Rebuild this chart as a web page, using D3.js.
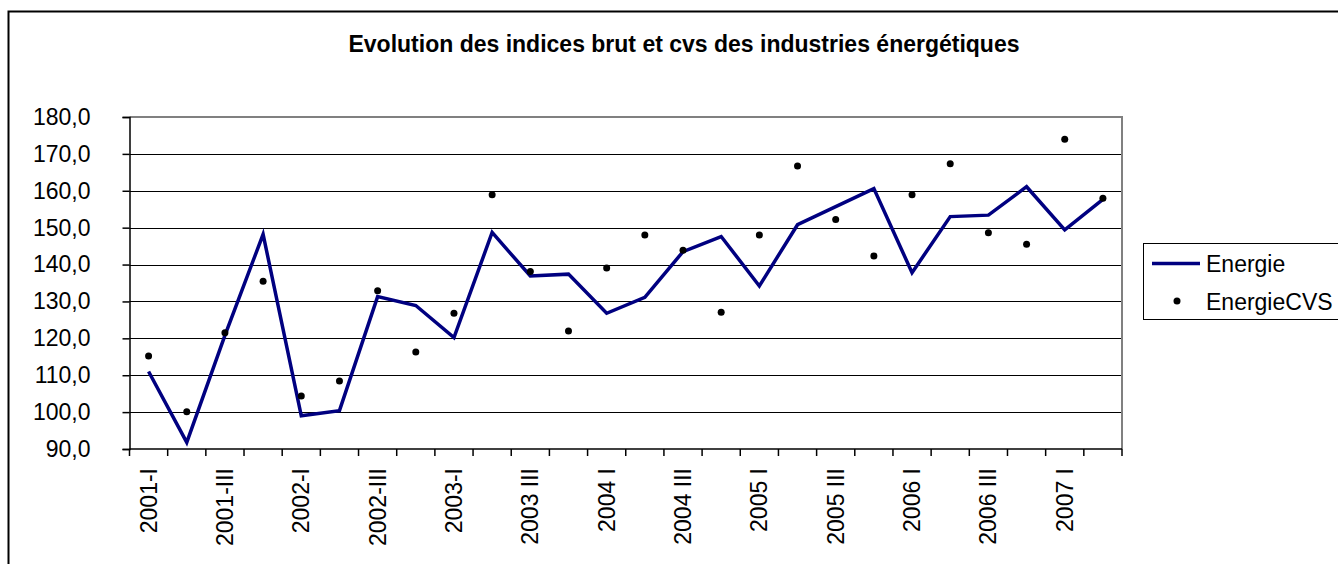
<!DOCTYPE html>
<html>
<head>
<meta charset="utf-8">
<script src="https://cdn.jsdelivr.net/npm/d3@7"></script>
<style>
	body { margin: 0; background: #ffffff; }
	svg text { font-family: Arial, "Liberation Sans", sans-serif; fill: #000000; }
</style>
</head>
<body>
<div id="chart"></div>
<script>

// Categories (quarters)
var categories = [
	"2001-I", "2001-II", "2001-III", "2001-IV",
	"2002-I", "2002-II", "2002-III", "2002-IV",
	"2003-I", "2003-II", "2003 III", "2003 IV",
	"2004 I", "2004 II", "2004 III", "2004 IV",
	"2005 I", "2005 II", "2005 III", "2005 IV",
	"2006 I", "2006 II", "2006 III", "2006 IV",
	"2007 I", "2007 II"
];

// Series values
var energie = [
	111.0, 91.8, 120.8, 148.2,
	99.0, 100.4, 131.3, 128.9,
	120.2, 148.7, 136.9, 137.4,
	126.8, 131.1, 143.5, 147.6,
	134.2, 150.8, 155.7, 160.6,
	137.8, 153.0, 153.4, 161.1,
	149.4, 157.7
];

var energieCVS = [
	115.2, 100.1, 121.5, 135.5,
	104.4, 108.4, 132.9, 116.3,
	126.8, 158.9, 138.1, 122.0,
	139.1, 148.0, 143.9, 127.1,
	148.0, 166.7, 152.2, 142.3,
	158.9, 167.3, 148.6, 145.5,
	174.0, 158.0
];

// Tick labels
var yTicks = [90, 100, 110, 120, 130, 140, 150, 160, 170, 180];
var xLabelEvery = 2;

var chartTitle = "Evolution des indices brut et cvs des industries énergétiques";
var legendNames = ["Energie", "EnergieCVS"];

(function(){

	var width = 1338, height = 564;
	var fontSize = 23;

	// Plot area
	var plot = { left: 129.5, right: 1122, top: 117, bottom: 449 };

	var svg = d3.select("#chart").append("svg")
		.attr("width", width)
		.attr("height", height);

	// Outer chart frame (runs off the right and bottom of the picture)
	svg.append("rect")
		.attr("x", 8.5)
		.attr("y", 11.5)
		.attr("width", 1400)
		.attr("height", 600)
		.attr("fill", "#ffffff")
		.attr("stroke", "#000000")
		.attr("stroke-width", 2);

	// Title
	svg.append("text")
		.attr("x", 684)
		.attr("y", 52)
		.attr("text-anchor", "middle")
		.attr("font-size", 23)
		.attr("font-weight", "bold")
		.text(chartTitle);

	// Scales
	var x = d3.scaleBand()
		.domain(categories)
		.range([plot.left, plot.right]);

	var y = d3.scaleLinear()
		.domain([90, 180])
		.range([plot.bottom, plot.top]);

	var cx = function(i){ return x(categories[i]) + x.bandwidth() / 2; };

	// Gridlines
	svg.append("g")
		.selectAll("line")
		.data(yTicks.slice(1, -1))
		.enter().append("line")
		.attr("x1", plot.left)
		.attr("x2", plot.right)
		.attr("y1", function(d){ return Math.round(y(d)) + 0.5; })
		.attr("y2", function(d){ return Math.round(y(d)) + 0.5; })
		.attr("stroke", "#000000")
		.attr("stroke-width", 1);

	// Plot area border (top and right, grey)
	svg.append("path")
		.attr("d", "M" + plot.left + "," + plot.top + "H" + plot.right + "V" + plot.bottom)
		.attr("fill", "none")
		.attr("stroke", "#808080")
		.attr("stroke-width", 2);

	// Y axis
	var yAxis = d3.axisLeft(y)
		.tickValues(yTicks)
		.tickSize(7)
		.tickPadding(32)
		.tickFormat(function(d){ return d3.format(".1f")(d).replace(".", ","); });

	var gy = svg.append("g")
		.attr("transform", "translate(" + plot.left + ",0)")
		.call(yAxis);
	gy.selectAll("path, line").attr("stroke", "#000000").attr("stroke-width", 1.5);
	gy.selectAll("text")
		.attr("font-size", fontSize)
		.attr("font-family", "Arial, 'Liberation Sans', sans-serif");

	// X axis (ticks on category boundaries)
	var gx = svg.append("g");
	gx.append("line")
		.attr("x1", plot.left)
		.attr("x2", plot.right)
		.attr("y1", plot.bottom)
		.attr("y2", plot.bottom)
		.attr("stroke", "#000000")
		.attr("stroke-width", 1.5);

	var bounds = categories.map(function(c){ return x(c); }).concat([plot.right]);
	gx.selectAll("line.tick")
		.data(bounds)
		.enter().append("line")
		.attr("class", "tick")
		.attr("x1", function(d){ return d; })
		.attr("x2", function(d){ return d; })
		.attr("y1", plot.bottom)
		.attr("y2", plot.bottom + 7)
		.attr("stroke", "#000000")
		.attr("stroke-width", 1.5);

	gx.selectAll("text")
		.data(categories.filter(function(c, i){ return i % xLabelEvery == 0; }))
		.enter().append("text")
		.attr("transform", function(d){
			return "translate(" + (x(d) + x.bandwidth() / 2 + 8) + "," + (plot.bottom + 19) + ") rotate(-90)";
		})
		.attr("text-anchor", "end")
		.attr("font-size", fontSize)
		.text(function(d){ return d; });

	// Energie line
	var line = d3.line()
		.x(function(d, i){ return cx(i); })
		.y(function(d){ return y(d); });

	svg.append("path")
		.datum(energie)
		.attr("d", line)
		.attr("fill", "none")
		.attr("stroke", "#000080")
		.attr("stroke-width", 3.5)
		.attr("stroke-linejoin", "miter");

	// EnergieCVS markers
	svg.append("g")
		.selectAll("circle")
		.data(energieCVS)
		.enter().append("circle")
		.attr("cx", function(d, i){ return cx(i); })
		.attr("cy", function(d){ return y(d); })
		.attr("r", 3.5)
		.attr("fill", "#000000");

	// Legend
	var legend = svg.append("g");
	legend.append("rect")
		.attr("x", 1143.5)
		.attr("y", 243.5)
		.attr("width", 220)
		.attr("height", 76)
		.attr("fill", "#ffffff")
		.attr("stroke", "#000000")
		.attr("stroke-width", 1);

	legend.append("line")
		.attr("x1", 1152)
		.attr("x2", 1200)
		.attr("y1", 263.5)
		.attr("y2", 263.5)
		.attr("stroke", "#000080")
		.attr("stroke-width", 3.5);

	legend.append("circle")
		.attr("cx", 1177)
		.attr("cy", 301)
		.attr("r", 3.5)
		.attr("fill", "#000000");

	legend.selectAll("text")
		.data(legendNames)
		.enter().append("text")
		.attr("x", 1206)
		.attr("y", function(d, i){ return 272 + i * 38; })
		.attr("font-size", fontSize)
		.text(function(d){ return d; });

})();
</script>
</body>
</html>
